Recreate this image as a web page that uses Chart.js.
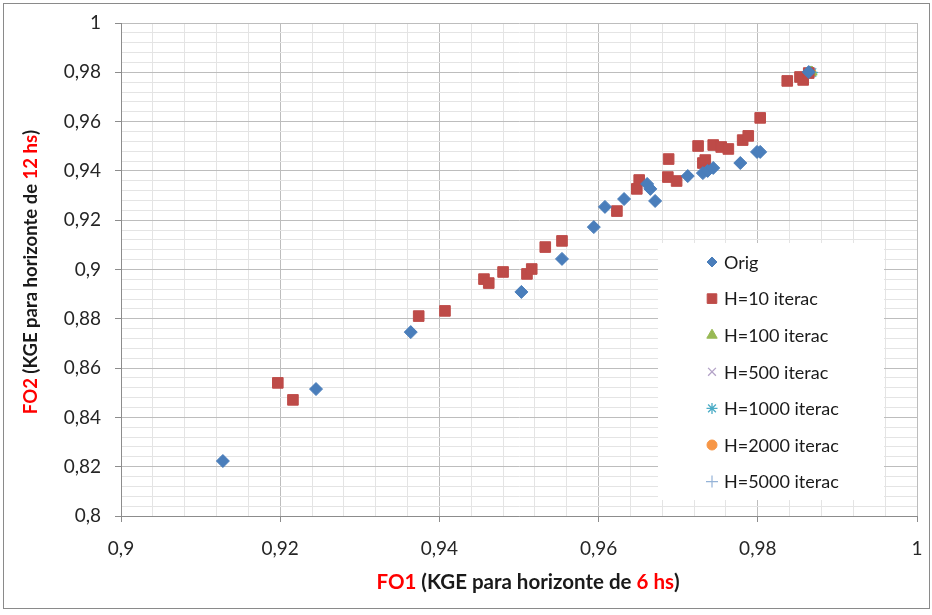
<!DOCTYPE html>
<html>
<head>
<meta charset="utf-8">
<script src="https://cdn.jsdelivr.net/npm/chart.js@4/dist/chart.umd.min.js"></script>
<style>
  html, body { margin: 0; padding: 0; background: #fff; }
  #wrap { position: relative; width: 932px; height: 615px; }
</style>
</head>
<body>
<div id="wrap"><canvas id="c" width="932" height="615"></canvas></div>
<script>
// FO1 (KGE, 6 h horizon) and FO2 (KGE, 12 h horizon) for each run
const origFO1 = [0.9128, 0.9245, 0.9364, 0.9503, 0.9554, 0.9594, 0.9608, 0.9632, 0.9661, 0.9665,
                 0.9671, 0.9712, 0.9731, 0.9737, 0.9744, 0.9778, 0.9799, 0.9803, 0.9864];
const origFO2 = [0.8223, 0.8515, 0.8746, 0.8909, 0.9043, 0.9172, 0.9254, 0.9286, 0.9347, 0.9327,
                 0.9278, 0.9379, 0.9391, 0.9400, 0.9412, 0.9432, 0.9477, 0.9477, 0.9801];

const h10FO1 = [0.9197, 0.9216, 0.9374, 0.9407, 0.9456, 0.9462, 0.9480, 0.9510, 0.9516, 0.9533,
                0.9554, 0.9623, 0.9648, 0.9651, 0.9687, 0.9698, 0.9688, 0.9725, 0.9731, 0.9734,
                0.9744, 0.9754, 0.9763, 0.9781, 0.9788, 0.9803, 0.9837, 0.9853, 0.9857, 0.9864];
const h10FO2 = [0.8540, 0.8471, 0.8811, 0.8832, 0.8961, 0.8945, 0.8990, 0.8982, 0.9002, 0.9091,
                0.9116, 0.9237, 0.9327, 0.9363, 0.9375, 0.9359, 0.9448, 0.9501, 0.9432, 0.9444,
                0.9505, 0.9497, 0.9489, 0.9525, 0.9542, 0.9615, 0.9765, 0.9781, 0.9769, 0.9797];

const h100FO1 = [0.9866, 0.9868];
const h100FO2 = [0.9799, 0.9801];
const h500FO1 = [0.9867, 0.9865];
const h500FO2 = [0.9800, 0.9798];
const h1000FO1 = [0.9866, 0.9868];
const h1000FO2 = [0.9801, 0.9799];
const h2000FO1 = [0.9866];
const h2000FO2 = [0.9800];
const h5000FO1 = [0.9867];
const h5000FO2 = [0.9800];

const seriesNames = ['Orig', 'H=10 iterac', 'H=100 iterac', 'H=500 iterac',
                     'H=1000 iterac', 'H=2000 iterac', 'H=5000 iterac'];

// axis ranges and label step
const xMin = 0.9, xMax = 1, yMin = 0.8, yMax = 1;
const minorStep = 0.004, majorStep = 0.02;

const FONT = 'Lato, "Liberation Sans", sans-serif';

function pairs(xs, ys) { return xs.map((x, i) => ({ x: x, y: ys[i] })); }
function isMajor(v) { const q = v / majorStep; return Math.abs(q - Math.round(q)) < 1e-6; }
function fmt(v) { return String(Number(v.toFixed(3))).replace('.', ','); }

// marker look per series; legendR is the marker size used in the legend key
const styles = [
  { pointStyle: 'rectRot',  radius: 6.5, legendR: 5,   bg: '#4A7EBB', border: '#4A7EBB', bw: 1 },
  { pointStyle: 'rect',     radius: 7.5, legendR: 6.8, bg: '#BE4B48', border: '#BE4B48', bw: 1 },
  { pointStyle: 'triangle', radius: 6,   legendR: 6,   bg: '#98B954', border: '#98B954', bw: 1 },
  { pointStyle: 'crossRot', radius: 6,   legendR: 5.5, bg: '#B3A2C7', border: '#B3A2C7', bw: 1.3 },
  { pointStyle: 'star',     radius: 6,   legendR: 5.5, bg: '#4BACC6', border: '#4BACC6', bw: 1.3 },
  { pointStyle: 'circle',   radius: 5.5, legendR: 5,   bg: '#F79646', border: '#F79646', bw: 1 },
  { pointStyle: 'cross',    radius: 6.5, legendR: 6,   bg: '#95B3D7', border: '#95B3D7', bw: 1.2 }
];

const seriesData = [
  pairs(origFO1, origFO2), pairs(h10FO1, h10FO2), pairs(h100FO1, h100FO2),
  pairs(h500FO1, h500FO2), pairs(h1000FO1, h1000FO2), pairs(h2000FO1, h2000FO2),
  pairs(h5000FO1, h5000FO2)
];

const datasets = seriesData.map((d, i) => ({
  label: seriesNames[i],
  data: d,
  pointStyle: styles[i].pointStyle,
  pointRadius: styles[i].radius,
  pointHoverRadius: styles[i].radius,
  backgroundColor: styles[i].bg,
  borderColor: styles[i].border,
  borderWidth: styles[i].bw,
  showLine: false
}));

// frame around the whole chart
const framePlugin = {
  id: 'frame',
  beforeDraw(chart) {
    const ctx = chart.ctx;
    ctx.save();
    ctx.fillStyle = '#fff';
    ctx.fillRect(0, 0, chart.width, chart.height);
    ctx.restore();
  },
  afterDraw(chart) {
    const ctx = chart.ctx;
    ctx.save();
    ctx.strokeStyle = '#8A8A8A';
    ctx.lineWidth = 1;
    ctx.strokeRect(3.5, 3.5, 926, 605);
    ctx.restore();
  }
};

// axis titles with red highlighted parts
function drawRuns(ctx, runs, cx, cy) {
  let total = 0;
  runs.forEach(r => total += ctx.measureText(r[0]).width);
  let x = cx - total / 2;
  runs.forEach(r => {
    ctx.fillStyle = r[1];
    ctx.fillText(r[0], x, cy);
    x += ctx.measureText(r[0]).width;
  });
}
const titlePlugin = {
  id: 'axisTitles',
  afterDraw(chart) {
    const ctx = chart.ctx;
    ctx.save();
    ctx.textBaseline = 'middle';
    ctx.textAlign = 'left';
    ctx.font = 'bold 20.5px ' + FONT;
    drawRuns(ctx, [['FO1', '#FF0000'], [' (KGE para horizonte de ', '#1a1a1a'], ['6 hs', '#FF0000'], [')', '#1a1a1a']],
             528, 582);
    ctx.font = 'bold 18.5px ' + FONT;
    ctx.translate(31, 272);
    ctx.rotate(-Math.PI / 2);
    drawRuns(ctx, [['FO2', '#FF0000'], [' (KGE para horizonte de ', '#1a1a1a'], ['12 hs', '#FF0000'], [')', '#1a1a1a']],
             0, 0);
    ctx.restore();
  }
};

// legend box drawn inside the plot area
const legendPlugin = {
  id: 'insideLegend',
  afterDraw(chart) {
    const ctx = chart.ctx;
    const box = { x: 658, y: 243, w: 226, h: 257 };
    ctx.save();
    ctx.fillStyle = '#fff';
    ctx.fillRect(box.x, box.y, box.w, box.h);
    ctx.font = '18px ' + FONT;
    ctx.textBaseline = 'middle';
    ctx.textAlign = 'left';
    chart.data.datasets.forEach((ds, i) => {
      const cy = box.y + 19 + i * 36.6;
      const mx = box.x + 54;
      ctx.fillStyle = ds.backgroundColor;
      ctx.strokeStyle = ds.borderColor;
      ctx.lineWidth = ds.borderWidth;
      Chart.helpers.drawPoint(ctx, {
        pointStyle: ds.pointStyle,
        radius: styles[i].legendR,
        borderWidth: ds.borderWidth,
        rotation: 0
      }, mx, cy);
      ctx.fillStyle = '#1a1a1a';
      ctx.fillText(ds.label, box.x + 66, cy + 1);
    });
    ctx.restore();
  }
};

const gridColor = c => isMajor(c.tick.value) ? '#BDBDBD' : '#E4E4E4';
const tickColor = c => isMajor(c.tick.value) ? '#8C8C8C' : 'rgba(0,0,0,0)';

new Chart(document.getElementById('c'), {
  type: 'scatter',
  data: { datasets: datasets },
  options: {
    responsive: false,
    animation: false,
    events: [],
    layout: { padding: { left: 0, right: 15, top: 23, bottom: 0 } },
    plugins: { legend: { display: false }, tooltip: { enabled: false }, title: { display: false } },
    scales: {
      x: {
        type: 'linear', min: xMin, max: xMax,
        afterFit(s) { s.height = 99; s.paddingLeft = 0; s.paddingRight = 0; },
        ticks: {
          stepSize: minorStep, maxTicksLimit: 200, autoSkip: false, maxRotation: 0, padding: 15,
          color: '#262626', font: { family: FONT, size: 19 },
          callback: v => isMajor(v) ? fmt(v) : ''
        },
        grid: { color: gridColor, tickColor: tickColor, tickLength: 6, lineWidth: 1 },
        border: { color: '#8C8C8C' }
      },
      y: {
        type: 'linear', min: yMin, max: yMax,
        afterFit(s) { s.width = 121; s.paddingTop = 0; s.paddingBottom = 0; },
        ticks: {
          stepSize: minorStep, maxTicksLimit: 200, autoSkip: false, padding: 14,
          color: '#262626', font: { family: FONT, size: 19 },
          callback: v => isMajor(v) ? fmt(v) : ''
        },
        grid: { color: gridColor, tickColor: tickColor, tickLength: 6, lineWidth: 1 },
        border: { color: '#8C8C8C' }
      }
    }
  },
  plugins: [framePlugin, titlePlugin, legendPlugin]
});
</script>
</body>
</html>
